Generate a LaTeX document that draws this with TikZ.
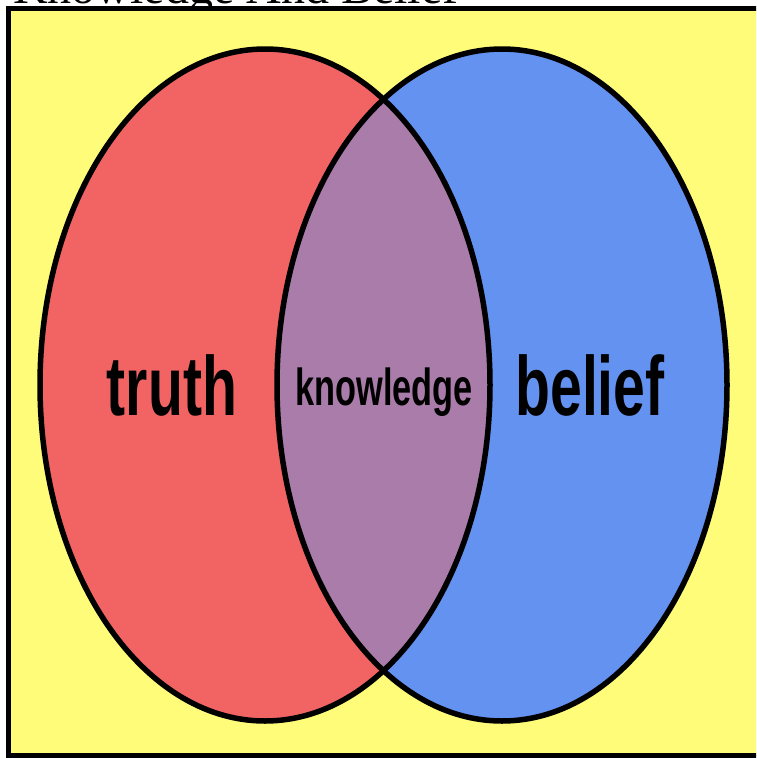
\documentclass[tikz,border=0pt]{standalone}
\usepackage{fontspec}
\setmainfont{Liberation Serif}
\newfontfamily\lsans{Liberation Sans}
\definecolor{bgyellow}{RGB}{255,252,122}
\definecolor{truthred}{RGB}{242,100,100}
\definecolor{beliefblue}{RGB}{100,146,240}
\definecolor{knowpurple}{RGB}{170,124,170}
\tikzset{
  venn/.style={line width=5.5pt, draw=black},
  biglabel/.style={font=\lsans\bfseries\fontsize{84}{84}\selectfont, xscale=0.68, inner sep=0pt, anchor=base},
  smalllabel/.style={font=\lsans\bfseries\fontsize{52}{52}\selectfont, xscale=0.66, inner sep=0pt, anchor=base},
}
\begin{document}
\begin{tikzpicture}[x=1pt,y=-1pt]
\useasboundingbox (0,0) rectangle (756,758);
\begin{scope}
\clip (0,0) rectangle (756,758);
\node[font=\fontsize{48}{48}\selectfont, anchor=base west, inner sep=0pt] (title) at (13,3) {Knowledge And Belief};
\fill[bgyellow] (8.5,8.5) rectangle (770,755.5);
\draw[line width=5.5pt] (8.5,8.5) rectangle (770,755.5);
\fill[truthred] (265,385) ellipse [x radius=225, y radius=336];
\fill[beliefblue] (502,385) ellipse [x radius=225, y radius=336];
\begin{scope}
\clip (265,385) ellipse [x radius=225, y radius=336];
\fill[knowpurple] (502,385) ellipse [x radius=225, y radius=336];
\end{scope}
\draw[venn] (265,385) ellipse [x radius=225, y radius=336];
\draw[venn] (502,385) ellipse [x radius=225, y radius=336];
\end{scope}
\node[biglabel] (truth) at (172,415) {truth};
\node[biglabel] (belief) at (590,415) {belief};
\node[smalllabel] (know) at (384,405) {knowledge};
\end{tikzpicture}
\end{document}
